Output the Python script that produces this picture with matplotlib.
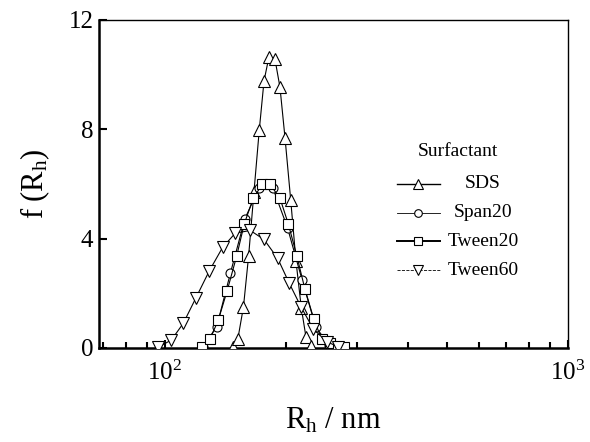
import matplotlib
matplotlib.use('Agg')
import matplotlib.pyplot as plt
from matplotlib.lines import Line2D
from matplotlib.ticker import FixedLocator, NullFormatter

plt.rcParams['font.family'] = ['Liberation Serif', 'DejaVu Serif']
plt.rcParams['mathtext.fontset'] = 'custom'
plt.rcParams['mathtext.rm'] = 'Liberation Serif'
plt.rcParams['mathtext.it'] = 'Liberation Serif:italic'

# ---------------------- size distributions f(Rh), Rh in nm
rh_sds = [147.2, 151.6, 156.6, 161.3, 166.3, 171.4, 176.1, 181.2,
          187.5, 192.9, 198.6, 205.1, 211.4, 217.9, 223.8, 230.3]
f_sds = [0.04, 0.32, 1.51, 3.38, 5.72, 7.98, 9.77, 10.66,
         10.56, 9.54, 7.67, 5.42, 3.18, 1.47, 0.40, 0.07]

rh_span20 = [124.3, 134.4, 145.4, 157.9, 171.1, 185.3, 201.4, 218.8, 236.6, 255.2]
f_span20 = [0.05, 0.78, 2.75, 4.73, 5.85, 5.85, 4.40, 2.50, 0.78, 0.10]

rh_tween20 = [123.3, 129.3, 135.6, 142.7, 150.6, 157.3, 165.6, 174.4, 182.2,
              192.9, 202.3, 212.3, 222.5, 233.9, 244.8, 256.7, 268.7, 278.0]
f_tween20 = [0.05, 0.32, 1.02, 2.10, 3.36, 4.54, 5.48, 5.99, 5.99,
             5.48, 4.54, 3.38, 2.15, 1.07, 0.32, 0.19, 0.04, 0.02]

rh_tween60 = [96.2, 103.7, 111.0, 119.4, 128.9, 139.0, 149.4, 162.8,
              176.1, 190.4, 203.1, 217.8, 233.3, 251.9, 268.7]
f_tween60 = [0.03, 0.29, 0.90, 1.84, 2.83, 3.68, 4.20, 4.30,
             3.97, 3.28, 2.39, 1.49, 0.70, 0.23, 0.05]

labels = ['SDS', 'Span20', 'Tween20', 'Tween60']
markers = ['^', 'o', 's', 'v']
msizes = [8, 6.5, 6.5, 8]

series = [(rh_sds, f_sds), (rh_span20, f_span20),
          (rh_tween20, f_tween20), (rh_tween60, f_tween60)]

fig = plt.figure(figsize=(5.9, 4.42), dpi=100)
ax = fig.add_axes([99/590, 94/442, 469/590, 328/442])

# draw Tween60 first so the narrow peaks sit on top
for i in [3, 0, 2, 1]:
    x, y = series[i]
    ax.plot(x, y, color='black', lw=0.8, marker=markers[i], ms=msizes[i],
            mfc='white', mec='black', mew=0.8, zorder=3 + i)

ax.set_xscale('log')
ax.set_xlim(68.6, 1000)
ax.set_ylim(0, 12)

ax.xaxis.set_major_locator(FixedLocator([100, 1000]))
ax.set_xticklabels(['$10^2$', '$10^3$'])
ax.xaxis.set_minor_locator(FixedLocator([70, 80, 90, 200, 300, 400, 500,
                                         600, 700, 800, 900]))
ax.xaxis.set_minor_formatter(NullFormatter())
ax.set_yticks([0, 4, 8, 12])

ax.tick_params(axis='both', which='major', direction='in', length=6,
               width=1.5, labelsize=18, top=False, right=False)
ax.tick_params(axis='x', which='minor', direction='in', length=4,
               width=1.5, top=False)
ax.tick_params(axis='x', which='major', pad=9)
ax.tick_params(axis='y', which='major', pad=4)

ax.spines['left'].set_linewidth(1.8)
ax.spines['bottom'].set_linewidth(1.8)
ax.spines['top'].set_linewidth(1.0)
ax.spines['right'].set_linewidth(1.0)

ax.set_xlabel(r'R$_{\rm h}$ / nm', fontsize=22, labelpad=15)
ax.set_ylabel(r'f (R$_{\rm h}$)', fontsize=22, labelpad=12)

# hand-placed legend with centered entry text
ax.text(0.7655, 0.5976, 'Surfactant', transform=ax.transAxes,
        ha='center', va='center', fontsize=14)
leg_y = [0.500, 0.4116, 0.3262, 0.2378]
leg_lw = [1.0, 0.6, 1.4, 0.6]
leg_ls = ['-', '-', '-', '--']
for i, lab in enumerate(labels):
    ax.add_line(Line2D([0.6354, 0.7270], [leg_y[i], leg_y[i]],
                       transform=ax.transAxes, color='black',
                       lw=leg_lw[i], ls=leg_ls[i]))
    ax.add_line(Line2D([0.6812], [leg_y[i]], transform=ax.transAxes,
                       marker=markers[i], ms=msizes[i] - 1, mfc='white',
                       mec='black', mew=0.8, ls='none'))
    ax.text(0.8190, leg_y[i], lab, transform=ax.transAxes,
            ha='center', va='center', fontsize=14)

fig.savefig('out.png', dpi=100)
